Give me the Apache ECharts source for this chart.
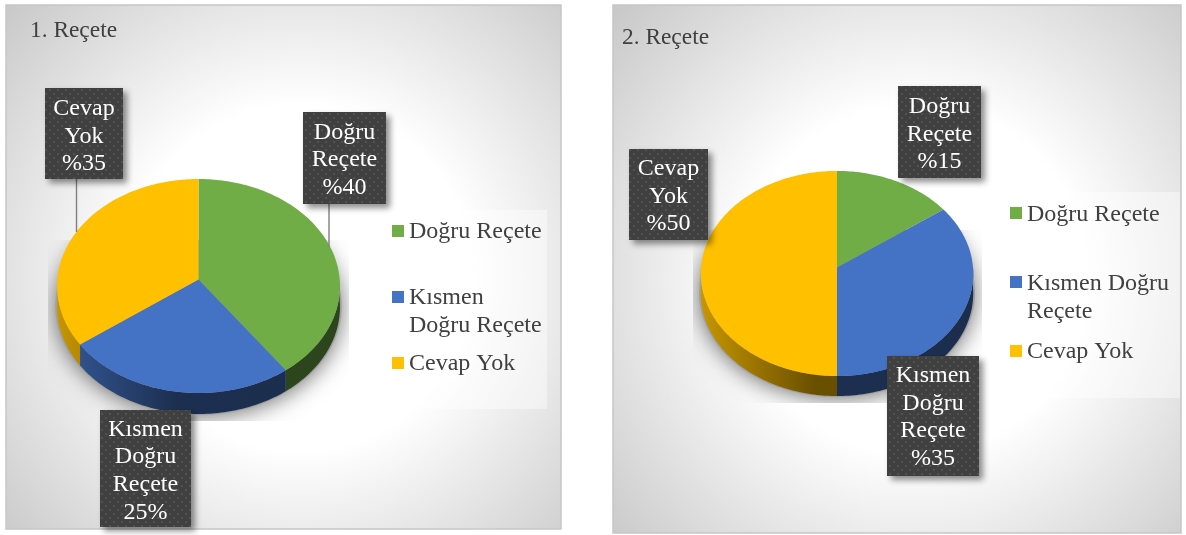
<!DOCTYPE html>
<html><head><meta charset="utf-8">
<style>html,body{margin:0;padding:0;background:#fff}#c{width:1186px;height:535px}</style>
<script src="https://cdn.jsdelivr.net/npm/echarts@6/dist/echarts.min.js"></script>
</head><body><div id="c"></div>
<script>
const categories = ['Doğru Reçete', 'Kısmen Doğru Reçete', 'Cevap Yok'];
const colors = ['#70ad47', '#4472c4', '#ffc000'];
const titles = ['1. Reçete', '2. Reçete'];
const values1 = [40, 25, 35];
const values2 = [15, 35, 50];
const calloutLines1 = [['Doğru', 'Reçete', '%40'], ['Kısmen', 'Doğru', 'Reçete', '25%'], ['Cevap', 'Yok', '%35']];
const calloutLines2 = [['Doğru', 'Reçete', '%15'], ['Kısmen', 'Doğru', 'Reçete', '%35'], ['Cevap', 'Yok', '%50']];
const legendLines1 = [['Doğru Reçete'], ['Kısmen', 'Doğru Reçete'], ['Cevap Yok']];
const legendLines2 = [['Doğru Reçete'], ['Kısmen Doğru', 'Reçete'], ['Cevap Yok']];

const FONT = '"Liberation Serif","Times New Roman",serif';
const FS = 24, TITLE_FS = 23.4, LH = 27.5;

const panels = [
  { values: values1, callouts: calloutLines1, legend: legendLines1,
    rect: [6, 5, 555, 524], titlePos: [30, 19], grad: [0.53, 0.52],
    cx: 198.5, apex: 279.5, A: 106.6, B: 141.2, k: 0.0607, depth: 21,
    shadowClip: [48, 240, 301, 181],
    boxes: [[303, 112, 83, 92, 132.5], [100, 410, 91, 117, 429.5], [45, 88, 78, 91, 109]],
    leaders: [[329, 204, 247], null, [76.5, 179, 232]],
    legendBox: [384, 210, 163, 199], markerX: 392, textX: 409,
    markerY: [225, 291, 357], textY: [231.5, 298, 364] },
  { values: values2, callouts: calloutLines2, legend: legendLines2,
    rect: [613, 5, 568, 528], titlePos: [622, 26], grad: [0.53, 0.52],
    cx: 837, apex: 267.5, A: 102.2, B: 136, k: 0.0585, depth: 20,
    shadowClip: [693, 230, 289, 173],
    boxes: [[898, 86, 83, 92, 107], [887, 356, 92, 120, 376], [629, 149, 79, 91, 169]],
    leaders: [null, null, null],
    legendBox: [998, 192, 182, 206], markerX: 1010, textX: 1027,
    markerY: [207, 276, 345], textY: [214.5, 284, 352] }
];

const tile = document.createElement('canvas');
tile.width = 8; tile.height = 8;
(function () {
  const g = tile.getContext('2d');
  g.fillStyle = '#404040'; g.fillRect(0, 0, 8, 8);
  g.fillStyle = '#525252'; g.fillRect(1, 1, 2, 2); g.fillRect(5, 5, 2, 2);
})();
const boxFill = { image: tile, repeat: 'repeat' };

function shade(hex, f) {
  const n = parseInt(hex.slice(1), 16);
  return 'rgb(' + [(n >> 16) & 255, (n >> 8) & 255, n & 255].map(c => Math.round(c * f)).join(',') + ')';
}
function project(p, t) {
  const x = Math.sin(t), y = -Math.cos(t), d = 1 - p.k * y;
  return [p.cx + p.B * x / d, p.apex + p.A * y / d];
}
function arc(p, a, b) {
  const pts = [], n = Math.max(2, Math.ceil((b - a) / 0.02));
  for (let i = 0; i <= n; i++) pts.push(project(p, a + (b - a) * i / n));
  return pts;
}

function renderSlice(p) {
  const total = p.values.reduce((s, v) => s + v, 0);
  return function (params, api) {
    const i = params.dataIndex, children = [];
    let before = 0;
    for (let j = 0; j < i; j++) before += p.values[j];
    const a = before / total * 2 * Math.PI;
    const b = (before + api.value(0)) / total * 2 * Math.PI;
    const color = colors[i];

    if (i === 0) {
      const c = p.shadowClip, top = project(p, 0)[1], bot = project(p, Math.PI)[1];
      children.push({
        type: 'group', silent: true,
        clipPath: { type: 'rect', shape: { x: c[0], y: c[1], width: c[2], height: c[3] } },
        children: [{
          type: 'ellipse', z2: 0,
          shape: { cx: p.cx, cy: (top + bot) / 2 + p.depth - 1, rx: p.B + 2, ry: (bot - top) / 2 + 2 },
          style: { fill: '#a0a0a0', shadowColor: 'rgba(0,0,0,0.55)', shadowBlur: 22, shadowOffsetY: 2 }
        }]
      });
    }
    const wa = Math.max(a, Math.PI / 2), wb = Math.min(b, 1.5 * Math.PI);
    if (wb > wa) {
      const rim = arc(p, wa, wb);
      const low = rim.slice().reverse().map(q => [q[0], q[1] + p.depth]);
      children.push({
        type: 'polygon', z2: 1, shape: { points: rim.concat(low) },
        style: { fill: {
          type: 'linear', global: true,
          x: p.cx - p.B, y: 0, x2: p.cx + p.B, y2: 0,
          colorStops: [
            { offset: 0, color: shade(color, 0.78) },
            { offset: 0.42, color: shade(color, 0.41) },
            { offset: 1, color: shade(color, 0.40) }
          ] } }
      });
    }
    children.push({
      type: 'polygon', z2: 2,
      shape: { points: [[p.cx, p.apex]].concat(arc(p, a, b)) },
      style: { fill: color }
    });
    const l = p.leaders[i];
    if (l) children.push({
      type: 'line', z2: 3, shape: { x1: l[0], y1: l[1], x2: l[0], y2: l[2] },
      style: { stroke: '#7f7f7f', lineWidth: 1.4 }
    });
    const bx = p.boxes[i];
    children.push({
      type: 'rect', z2: 10, shape: { x: bx[0], y: bx[1], width: bx[2], height: bx[3] },
      style: { fill: boxFill, shadowColor: 'rgba(0,0,0,0.45)', shadowBlur: 6, shadowOffsetX: 4, shadowOffsetY: 4 }
    });
    p.callouts[i].forEach((t, n) => children.push({
      type: 'text', z2: 11,
      style: { text: t, x: bx[0] + bx[2] / 2, y: bx[4] + n * 27.6, fill: '#fff',
        fontSize: FS, fontFamily: FONT, align: 'center', verticalAlign: 'middle' }
    }));
    if (i === 0) {
      const lb = p.legendBox;
      children.push({ type: 'rect', z2: 5, shape: { x: lb[0], y: lb[1], width: lb[2], height: lb[3] },
        style: { fill: 'rgba(255,255,255,0.42)' } });
    }
    children.push({ type: 'rect', z2: 6, shape: { x: p.markerX, y: p.markerY[i], width: 12, height: 12 },
      style: { fill: color } });
    p.legend[i].forEach((t, n) => children.push({
      type: 'text', z2: 6,
      style: { text: t, x: p.textX, y: p.textY[i] + n * LH, fill: '#404040',
        fontSize: FS, fontFamily: FONT, align: 'left', verticalAlign: 'middle' }
    }));
    return { type: 'group', children };
  };
}

const chart = echarts.init(document.getElementById('c'), null, { renderer: 'canvas' });
chart.setOption({
  animation: false,
  backgroundColor: '#fff',
  title: panels.map((p, i) => ({
    text: titles[i], left: p.titlePos[0], top: p.titlePos[1], padding: 0,
    textStyle: { fontFamily: FONT, fontSize: TITLE_FS, fontWeight: 'normal', color: '#404040' }
  })),
  graphic: panels.map(p => ({
    type: 'rect', silent: true, z: 0,
    shape: { x: p.rect[0], y: p.rect[1], width: p.rect[2], height: p.rect[3] },
    style: {
      stroke: '#c6c6c6', lineWidth: 1.5,
      fill: { type: 'radial', x: p.grad[0], y: p.grad[1], r: 0.78, colorStops: [
        { offset: 0, color: '#ffffff' }, { offset: 0.42, color: '#ffffff' }, { offset: 1, color: '#c6c6c6' }
      ] }
    }
  })),
  series: panels.map((p, i) => ({
    type: 'custom', name: titles[i], coordinateSystem: 'none', silent: true, z: 3,
    renderItem: renderSlice(p),
    data: categories.map((n, j) => ({ name: n, value: p.values[j] }))
  }))
});
</script></body></html>
